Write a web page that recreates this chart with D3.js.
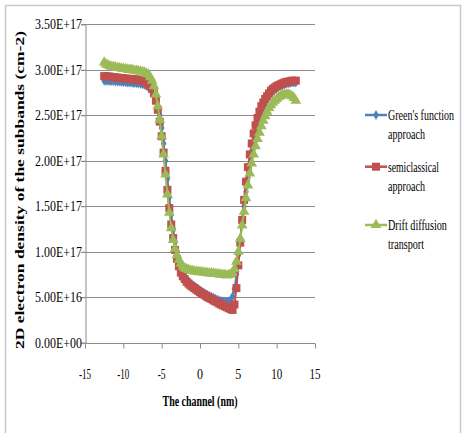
<!DOCTYPE html>
<html><head><meta charset="utf-8">
<script src="https://cdn.jsdelivr.net/npm/d3@7"></script>
<style>body{margin:0;background:#fff}svg{display:block}text{font-family:"Liberation Serif","Times New Roman",serif;fill:#000}</style>
</head><body>
<script>
// x positions (nm), sampled every 0.25 nm
const xs = d3.range(-12.5, 12.501, 0.25);
// values in units of 1E17 cm^-2
const greens = [2.88,2.88,2.88,2.875,2.875,2.875,2.87,2.87,2.87,2.865,2.865,2.865,2.86,2.86,2.86,2.855,2.855,2.85,2.85,2.845,2.84,2.835,2.825,2.81,2.79,2.76,2.72,2.67,2.60,2.50,2.36,2.19,2.00,1.80,1.60,1.41,1.25,1.11,1.00,0.90,0.82,0.77,0.73,0.70,0.675,0.655,0.635,0.62,0.605,0.59,0.575,0.56,0.55,0.535,0.525,0.515,0.505,0.495,0.485,0.475,0.465,0.46,0.455,0.45,0.45,0.455,0.47,0.51,0.59,0.75,0.96,1.15,1.33,1.50,1.66,1.81,1.95,2.08,2.20,2.30,2.39,2.47,2.54,2.59,2.64,2.68,2.71,2.74,2.76,2.78,2.80,2.81,2.82,2.83,2.84,2.845,2.85,2.855,2.86,2.86,2.86];
const semi = [2.93,2.93,2.925,2.925,2.92,2.92,2.915,2.915,2.91,2.91,2.905,2.905,2.90,2.90,2.90,2.895,2.895,2.89,2.89,2.885,2.88,2.87,2.86,2.84,2.82,2.79,2.74,2.66,2.56,2.43,2.27,2.09,1.89,1.68,1.48,1.30,1.15,1.02,0.92,0.84,0.77,0.73,0.70,0.67,0.65,0.63,0.615,0.60,0.585,0.57,0.555,0.54,0.53,0.515,0.50,0.49,0.48,0.465,0.455,0.445,0.43,0.42,0.41,0.40,0.39,0.38,0.37,0.36,0.42,0.60,0.85,1.10,1.35,1.57,1.77,1.93,2.07,2.19,2.30,2.39,2.47,2.54,2.60,2.64,2.68,2.71,2.74,2.77,2.79,2.805,2.82,2.83,2.84,2.85,2.86,2.865,2.87,2.875,2.88,2.88,2.88];
const drift = [3.08,3.06,3.05,3.04,3.035,3.03,3.025,3.02,3.02,3.015,3.01,3.01,3.005,3.0,3.0,2.995,2.99,2.99,2.985,2.98,2.975,2.97,2.96,2.95,2.92,2.88,2.82,2.73,2.60,2.45,2.27,2.07,1.85,1.63,1.43,1.26,1.13,1.03,0.96,0.91,0.87,0.84,0.82,0.81,0.80,0.795,0.79,0.785,0.78,0.78,0.775,0.775,0.77,0.77,0.765,0.765,0.76,0.76,0.755,0.755,0.75,0.75,0.745,0.745,0.74,0.745,0.75,0.77,0.81,0.89,1.00,1.14,1.29,1.44,1.59,1.73,1.86,1.97,2.07,2.16,2.24,2.31,2.38,2.44,2.49,2.54,2.58,2.61,2.64,2.66,2.68,2.70,2.71,2.72,2.73,2.73,2.73,2.72,2.71,2.69,2.66];
const yTicks = [0,0.5,1,1.5,2,2.5,3,3.5];
const yTickLabels = ["0.00E+00","5.00E+16","1.00E+17","1.50E+17","2.00E+17","2.50E+17","3.00E+17","3.50E+17"];
const xTicks = [-15,-10,-5,0,5,10,15];
const xTickLabels = ["-15","-10","-5","0","5","10","15"];
const seriesNames = [["Green's function","approach"],["semiclassical","approach"],["Drift diffusion","transport"]];
const colors = ["#4F81BD","#C0504D","#9BBB59"];

const W=465,H=433;
const svg=d3.select("body").append("svg").attr("width",W).attr("height",H);
svg.append("rect").attr("x",5.5).attr("y",5.5).attr("width",455).attr("height",440).attr("fill","#fff").attr("stroke","#c8c8c8").attr("stroke-width",1.5);

const x=d3.scaleLinear().domain([-15,15]).range([85,315]);
const y=d3.scaleLinear().domain([0,3.5]).range([342.7,24.3]);

// place a text horizontally squeezed to a given width (x = left or centre per anchor)
function fitText(parent, str, px, py, size, width, anchor, bold){
  const t=parent.append("text").style("font-size",size+"px").attr("text-anchor",anchor||"start").text(str);
  if(bold) t.style("font-weight","bold");
  const nat=t.node().getComputedTextLength();
  const s=width/nat;
  t.attr("transform",`translate(${px},${py}) scale(${s},1)`);
  return t;
}

// gridlines
svg.append("g").selectAll("line").data(yTicks.slice(1)).join("line")
  .attr("x1",81).attr("x2",315).attr("y1",d=>Math.round(y(d))+0.5).attr("y2",d=>Math.round(y(d))+0.5)
  .attr("stroke","#8c8c8c").attr("stroke-width",1);
// y axis
const yAxis=d3.axisLeft(y).tickValues(yTicks).tickSize(4).tickFormat(()=>"");
const gy=svg.append("g").attr("transform","translate(85.5,0)").call(yAxis);
gy.selectAll("path,line").attr("stroke","#8c8c8c");
yTicks.forEach((v,i)=>fitText(svg,yTickLabels[i],82,y(v)+4.8,14,47,"end"));
// x axis
const xAxis=d3.axisBottom(x).tickValues(xTicks).tickSize(5).tickSizeOuter(0).tickFormat(()=>"");
const gx=svg.append("g").attr("transform",`translate(0,${Math.round(y(0))+0.5})`).call(xAxis);
gx.selectAll("path,line").attr("stroke","#8c8c8c");
gx.select("path").attr("d","M85,0H315");
xTicks.forEach((v,i)=>{const s=xTickLabels[i]; fitText(svg,s,x(v),379,14,s.length>2?12:(s.length>1?(s[0]==="-"?8:11):6),"middle");});

// series
const all=[greens,semi,drift];
const line=d3.line().x((d,i)=>x(xs[i])).y(d=>y(d));
const symbols=[d3.symbol().type(d3.symbolDiamond).size(28), d3.symbol().type(d3.symbolSquare).size(64), d3.symbol().type(d3.symbolTriangle).size(50)];
all.forEach((vals,si)=>{
  const g=svg.append("g");
  g.append("path").datum(vals).attr("d",line).attr("fill","none").attr("stroke",colors[si]).attr("stroke-width",2);
  g.selectAll("path.m").data(vals).join("path").attr("class","m")
    .attr("d",symbols[si]).attr("transform",(d,i)=>`translate(${x(xs[i])},${y(d)})`)
    .attr("fill",colors[si]);
});

// legend
const legY=[115,166.7,225];
const legW=[[66,37],[51,37],[59,36]];
seriesNames.forEach((nm,i)=>{
  const g=svg.append("g");
  g.append("line").attr("x1",365).attr("x2",387).attr("y1",legY[i]).attr("y2",legY[i]).attr("stroke",colors[i]).attr("stroke-width",2.5);
  g.append("path").attr("d",symbols[i]).attr("transform",`translate(376,${legY[i]})`).attr("fill",colors[i]);
  fitText(g,nm[0],388,legY[i]+5,14,legW[i][0],"start");
  fitText(g,nm[1],388,legY[i]+24,14,legW[i][1],"start");
});

// axis titles
fitText(svg,"The channel (nm)",200,406,14,75,"middle",true);
const yt=svg.append("text").attr("transform","translate(24,190) rotate(-90)").attr("text-anchor","middle").style("font-size","13px").style("font-weight","bold")
  .text("2D electron density of the subbands (cm-2)").attr("textLength",318).attr("lengthAdjust","spacingAndGlyphs");
</script>
</body></html>
